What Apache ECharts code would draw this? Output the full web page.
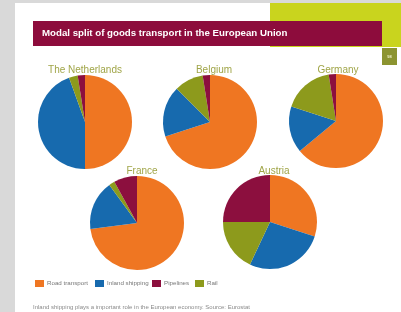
<!DOCTYPE html>
<html>
<head>
<meta charset="utf-8">
<script src="https://cdn.jsdelivr.net/npm/echarts@6/dist/echarts.min.js"></script>
<style>
html,body{margin:0;padding:0;background:#d9d9d9;}
#chart{width:401px;height:312px;}
</style>
</head>
<body>
<div id="chart"></div>
<script>
// modal split per country, slices clockwise from 12 o'clock
var modes = ['Road transport', 'Inland shipping', 'Rail', 'Pipelines'];
var legendOrder = ['Road transport', 'Inland shipping', 'Pipelines', 'Rail'];
var countries = ['The Netherlands', 'Belgium', 'Germany', 'France', 'Austria'];
var netherlands = [50, 44.5, 3, 2.5];
var belgium = [70, 17.5, 10, 2.5];
var germany = [64, 16, 17.5, 2.5];
var france = [73, 17, 2, 8];
var austria = [30, 27, 18, 25];

var modeColors = {
	'Road transport': '#ef7622',
	'Inland shipping': '#176aae',
	'Rail': '#8d9a1c',
	'Pipelines': '#8c0f3e'
};

var values = [netherlands, belgium, germany, france, austria];
var centers = [[85, 122], [210, 122], [336, 121], [137, 223], [270, 222]];
var titlePos = [[80, 60], [209, 60], [333, 60], [137, 161], [269, 161]];

var myChart = echarts.init(document.getElementById('chart'));

var titles = [];
var series = [];
for (var i = 0; i < countries.length; i++) {
	titles.push({
		text: countries[i],
		left: titlePos[i][0],
		top: titlePos[i][1],
		textAlign: 'center',
		textStyle: {fontSize: 10, fontWeight: 'normal', color: '#a0a548', fontFamily: 'Liberation Sans'}
	});
	var data = [];
	for (var j = 0; j < modes.length; j++) {
		data.push({name: modes[j], value: values[i][j], itemStyle: {color: modeColors[modes[j]]}});
	}
	series.push({
		type: 'pie',
		center: centers[i],
		radius: 47,
		startAngle: 90,
		clockwise: true,
		label: {show: false},
		labelLine: {show: false},
		emphasis: {disabled: true},
		itemStyle: {borderWidth: 0},
		data: data
	});
}

//one legend per item so each box sits where the original puts it
var legendX = [35, 95, 152, 195];
var legends = [];
for (var k = 0; k < legendOrder.length; k++) {
	legends.push({
		data: [legendOrder[k]],
		left: legendX[k],
		top: 280,
		icon: 'rect',
		itemWidth: 9,
		itemHeight: 7,
		itemGap: 3,
		padding: 0,
		selectedMode: false,
		textStyle: {fontSize: 6.2, color: '#777', fontFamily: 'Liberation Sans', padding: [0, 0, 0, -2]}
	});
}

var option = {
	animation: false,
	title: titles,
	legend: legends,
	graphic: [
		{type: 'rect', shape: {x: 15, y: 3, width: 386, height: 309}, style: {fill: '#ffffff'}, silent: true, z: -10},
		{type: 'rect', shape: {x: 270, y: 3, width: 131, height: 44}, style: {fill: '#c9d41e'}, silent: true, z: -9},
		{type: 'rect', shape: {x: 33, y: 21, width: 349, height: 25}, style: {fill: '#8d0c3c'}, silent: true, z: -8},
		{type: 'text', x: 42, y: 33.5, style: {text: 'Modal split of goods transport in the European Union', fill: '#fff', font: 'bold 9.7px "Liberation Sans"', verticalAlign: 'middle'}, silent: true},
		{type: 'rect', shape: {x: 382, y: 48, width: 15, height: 17}, style: {fill: '#8c9430'}, silent: true, z: -8},
		{type: 'text', x: 389.5, y: 56.5, style: {text: '98', fill: '#eef0c8', font: 'bold 4px "Liberation Sans"', align: 'center', verticalAlign: 'middle'}, silent: true},
		{type: 'text', x: 33, y: 307, style: {text: 'Inland shipping plays a important role in the European economy. Source: Eurostat', fill: '#8a8a8a', font: '6px "Liberation Sans"', verticalAlign: 'middle'}, silent: true}
	],
	series: series
};
myChart.setOption(option);
</script>
</body>
</html>
